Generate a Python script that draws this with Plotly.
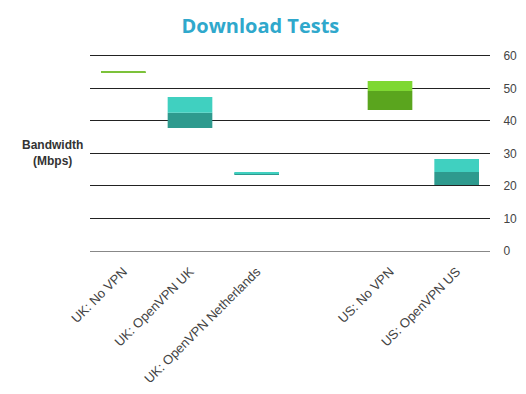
import plotly.graph_objects as go

categories = ["UK: No VPN", "UK: OpenVPN UK", "UK: OpenVPN Netherlands", " ", "US: No VPN", "US: OpenVPN US"]
bar_cats = ["UK: No VPN", "UK: OpenVPN UK", "UK: OpenVPN Netherlands", "US: No VPN", "US: OpenVPN US"]
low_vals = [54.8, 37.8, 23.4, 43.4, 20.3]
mid_vals = [55.05, 42.5, 23.9, 49.2, 24.3]
high_vals = [55.3, 47.4, 24.3, 52.3, 28.3]
dark_colors = ["#5fa624", "#2e9a8e", "#2e9a8e", "#5aa51e", "#2e9a8e"]
light_colors = ["#7cc23a", "#40d0c0", "#40d0c0", "#7ed832", "#40d0c0"]
y_ticks = [0, 10, 20, 30, 40, 50, 60]

fig = go.Figure()
fig.add_trace(go.Bar(
    x=bar_cats, base=low_vals, y=[m - l for m, l in zip(mid_vals, low_vals)],
    marker=dict(color=dark_colors, line=dict(width=0)), width=0.67, showlegend=False,
))
fig.add_trace(go.Bar(
    x=bar_cats, base=mid_vals, y=[h - m for h, m in zip(high_vals, mid_vals)],
    marker=dict(color=light_colors, line=dict(width=0)), width=0.67, showlegend=False,
))

fig.update_layout(
    width=526, height=394,
    margin=dict(l=90, r=36, t=53, b=143),
    paper_bgcolor="white", plot_bgcolor="white",
    barmode="overlay",
    font=dict(family="Liberation Sans, Arial, sans-serif", size=12, color="#444"),
    title=dict(text="<b>Download Tests</b>", x=0.495, xanchor="center", y=0.935, yanchor="middle",
               font=dict(family="Open Sans, sans-serif", size=20, color="#2fa8cc")),
    xaxis=dict(type="category", categoryorder="array", categoryarray=categories,
               tickangle=-45, showgrid=False, showline=True, linecolor="#888", linewidth=1,
               ticks="", ticklabelstandoff=7, automargin=False,
               tickfont=dict(size=13, color="#444"), range=[-0.5, 5.5]),
    yaxis=dict(side="right", range=[0, 60.9], tickvals=y_ticks, showgrid=True,
               gridcolor="#222", gridwidth=1, zeroline=False, showline=False, automargin=False,
               ticks="outside", ticklen=10, tickcolor="white",
               tickfont=dict(size=12, color="#444")),
    annotations=[dict(text="<b>Bandwidth<br>(Mbps)</b>", xref="paper", yref="paper",
                      x=-0.095, y=0.493, xanchor="center", yanchor="middle",
                      showarrow=False, font=dict(size=12, color="#333"))],
)
fig.write_html("out.html")
